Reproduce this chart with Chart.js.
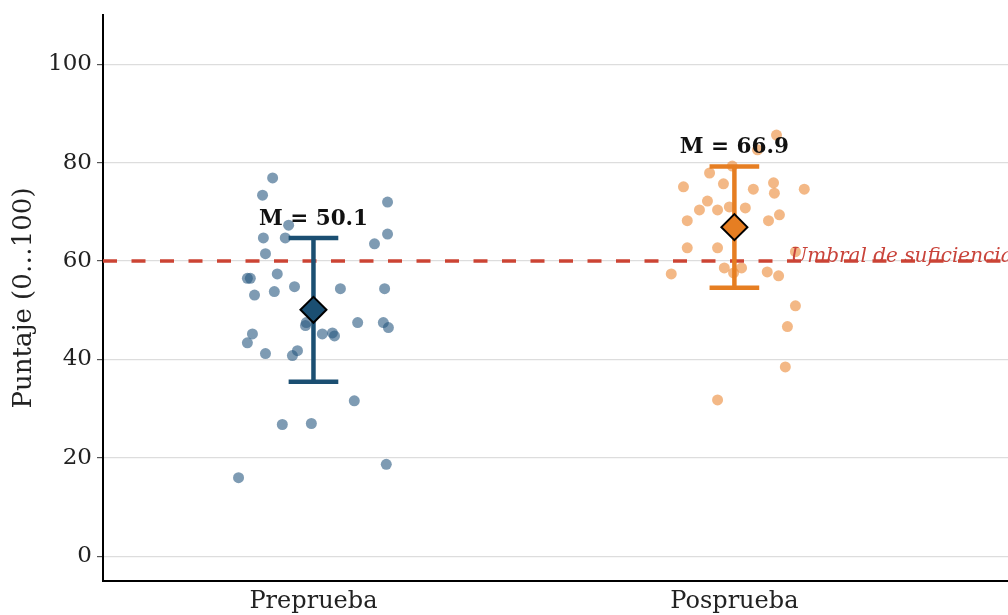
<!DOCTYPE html>
<html><head><meta charset="utf-8">
<script src="https://cdn.jsdelivr.net/npm/chart.js@4"></script>
<style>html,body{margin:0;padding:0;background:#fff;overflow:hidden}#wrap{width:1008px;height:615px;overflow:hidden}</style>
</head><body><div id="wrap"><canvas id="c" width="1023" height="615"></canvas></div>
<script>
const categories = ["Preprueba", "Posprueba"];
const preJitter = [-0.097,-0.121,0.176,-0.059,-0.119,-0.067,0.176,0.145,-0.114,-0.157,-0.150,-0.086,-0.140,-0.093,-0.045,0.064,0.169,-0.017,-0.019,0.105,0.166,0.178,-0.145,-0.157,0.021,0.045,0.050,-0.114,-0.050,-0.038,0.097,-0.074,-0.005,0.173,-0.178];
const preScores = [76.9,73.4,72.0,67.3,64.7,64.7,65.5,63.5,61.5,56.5,56.5,57.4,53.1,53.8,54.8,54.4,54.4,47.5,46.9,47.5,47.5,46.5,45.2,43.4,45.2,45.4,44.8,41.2,40.8,41.8,31.6,26.8,27.0,18.7,16.0];
const postJitter = [0.100,0.055,-0.005,-0.059,-0.121,-0.026,0.093,0.095,0.166,0.045,-0.064,-0.083,-0.040,-0.012,0.026,-0.112,0.081,0.107,-0.112,-0.040,0.145,-0.150,-0.024,-0.002,0.017,0.078,0.105,0.145,0.126,0.121,-0.040];
const postScores = [85.6,82.6,79.3,77.9,75.1,75.7,75.9,73.8,74.6,74.6,72.2,70.4,70.4,71.0,70.8,68.2,68.2,69.4,62.7,62.7,61.9,57.4,58.6,57.6,58.6,57.8,57.0,50.9,46.7,38.5,31.8];
const means = [50.1, 66.9];
const sds = [14.6, 12.3];
const threshold = 60;
const thresholdLabel = "Umbral de suficiencia";
const yTicks = [0, 20, 40, 60, 80, 100];

const CAP = 0.059;
const darkBlue = "#1b4f72", orange = "#e67e22";
const serif = "'DejaVu Serif', serif";

function pts(j, s, c) { return s.map((v, i) => ({ x: c + j[i], y: v })); }
function errDs(i, color) {
  const c = i + 1, lo = means[i] - sds[i], hi = means[i] + sds[i];
  return [
    { type: 'line', data: [{x:c,y:lo},{x:c,y:hi}], borderColor: color, borderWidth: 4.5, pointRadius: 0, order: 2 },
    { type: 'line', data: [{x:c-CAP,y:hi},{x:c+CAP,y:hi}], borderColor: color, borderWidth: 4.5, pointRadius: 0, order: 2 },
    { type: 'line', data: [{x:c-CAP,y:lo},{x:c+CAP,y:lo}], borderColor: color, borderWidth: 4.5, pointRadius: 0, order: 2 }
  ];
}

const labelsPlugin = {
  id: 'labels',
  afterDatasetsDraw(chart) {
    const { ctx, scales: { x, y } } = chart;
    ctx.save();
    ctx.font = "bold 21.5px " + serif;
    ctx.fillStyle = "#111";
    ctx.textAlign = "center";
    ctx.textBaseline = "middle";
    means.forEach((m, i) => {
      ctx.fillText("M = " + m.toFixed(1), x.getPixelForValue(i + 1), y.getPixelForValue(m + sds[i]) - 19);
    });
    ctx.font = "italic 20px " + serif;
    ctx.fillStyle = "#c9433a";
    ctx.textAlign = "left";
    ctx.textBaseline = "alphabetic";
    ctx.fillText(thresholdLabel, x.getPixelForValue(2.133), y.getPixelForValue(threshold) + 1);
    ctx.restore();
  }
};

new Chart(document.getElementById('c'), {
  type: 'scatter',
  data: {
    datasets: [
      { data: pts(preJitter, preScores, 1), backgroundColor: "rgba(40,88,128,0.6)", borderWidth: 0, pointRadius: 5.5, order: 4 },
      { data: pts(postJitter, postScores, 2), backgroundColor: "rgba(236,140,60,0.62)", borderWidth: 0, pointRadius: 5.5, order: 4 },
      { type: 'line', data: [{x:0.5,y:threshold},{x:2.7,y:threshold}], borderColor: "#cc4434", borderWidth: 3.5, borderDash: [14, 14.5], pointRadius: 0, order: 3 },
      ...errDs(0, darkBlue), ...errDs(1, orange),
      { data: means.map((m, i) => ({ x: i + 1, y: m })), pointStyle: 'rectRot', pointRadius: 13, backgroundColor: [darkBlue, orange], borderColor: "#000", borderWidth: 2, order: 1 }
    ]
  },
  options: {
    responsive: false, animation: false,
    layout: { padding: { top: 14, right: 0, left: 0, bottom: 0 } },
    plugins: { legend: { display: false }, tooltip: { enabled: false } },
    scales: {
      x: {
        type: 'linear', min: 0.5, max: 2.65,
        afterBuildTicks: (s) => { s.ticks = [{ value: 1 }, { value: 2 }]; },
        afterFit: (s) => { s.height = 34; s.paddingLeft = 0; s.paddingRight = 0; },
        ticks: { callback: (v) => categories[v - 1] || "", font: { family: serif, size: 24 }, color: "#222", padding: 1 },
        grid: { display: false, drawTicks: true, tickLength: 5 },
        border: { color: "#000", width: 2 }
      },
      y: {
        min: -5, max: 110,
        afterBuildTicks: (s) => { s.ticks = yTicks.map(v => ({ value: v })); },
        afterFit: (s) => { s.width = 103; s.paddingTop = 0; s.paddingBottom = 0; },
        ticks: { font: { family: serif, size: 23 }, color: "#222", padding: 5 },
        grid: { color: "#dddddd", lineWidth: 1.2, tickLength: 6, tickColor: "#555" },
        border: { color: "#000", width: 2 },
        title: { display: true, text: "Puntaje (0…100)", font: { family: serif, size: 26 }, color: "#222", padding: { top: 9, bottom: 0 } }
      }
    }
  },
  plugins: [labelsPlugin]
});
</script></body></html>
